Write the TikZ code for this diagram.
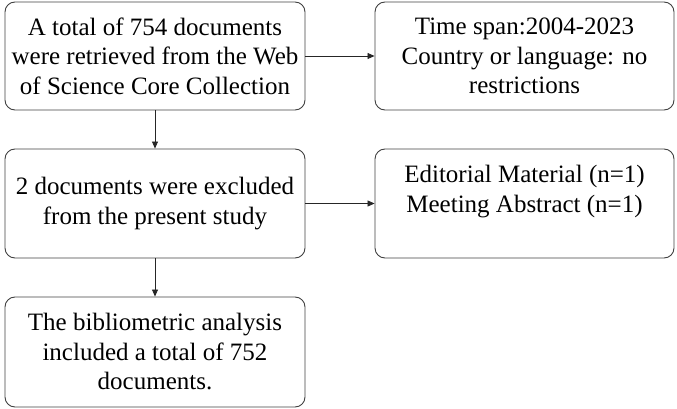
\documentclass[tikz,border=0pt]{standalone}
\usepackage{fontspec}
\setmainfont{Liberation Serif}
\usetikzlibrary{arrows.meta,positioning}

\begin{document}
\begin{tikzpicture}[x=1pt,y=1pt,>={Triangle[length=7pt,width=6pt]},
    box/.style={draw=black!75, line width=0.9pt, rounded corners=10pt, align=center,
      minimum width=300pt, minimum height=108pt, inner sep=0pt,
      font=\fontsize{25pt}{29.5pt}\selectfont},
    link/.style={->, black!85, line width=0.8pt}]
    \useasboundingbox (0,0) rectangle (677,-409);

    \coordinate (leftTop) at (155,-56);
    \coordinate (rightTop) at (524.5,-56);

    \node [box] (retrievedNode) at (leftTop) {A total of 754 documents\\were retrieved from the Web\\of Science Core Collection};
    \node [box, minimum width=299pt] (spanNode) at (rightTop) {Time span:2004-2023\\Country or language: no\\restrictions};

    \node [box, minimum height=109pt, below=147.5pt of retrievedNode.center, anchor=center] (excludedNode) {2 documents were excluded\\from the present study};
    \node [box, minimum width=299pt, minimum height=109pt, below=147.5pt of spanNode.center, anchor=center] (typesNode) {Editorial Material (n=1)\\Meeting Abstract (n=1)\\\mbox{}};

    \node [box, minimum height=110pt, below=148.5pt of excludedNode.center, anchor=center] (includedNode) {The bibliometric analysis\\included a total of 752\\documents.};

    \draw[link] (retrievedNode.east) -- (spanNode.west);
    \draw[link] (retrievedNode.south) -- (excludedNode.north);
    \draw[link] (excludedNode.east) -- (typesNode.west);
    \draw[link] (excludedNode.south) -- (includedNode.north);

  \end{tikzpicture}
\end{document}
